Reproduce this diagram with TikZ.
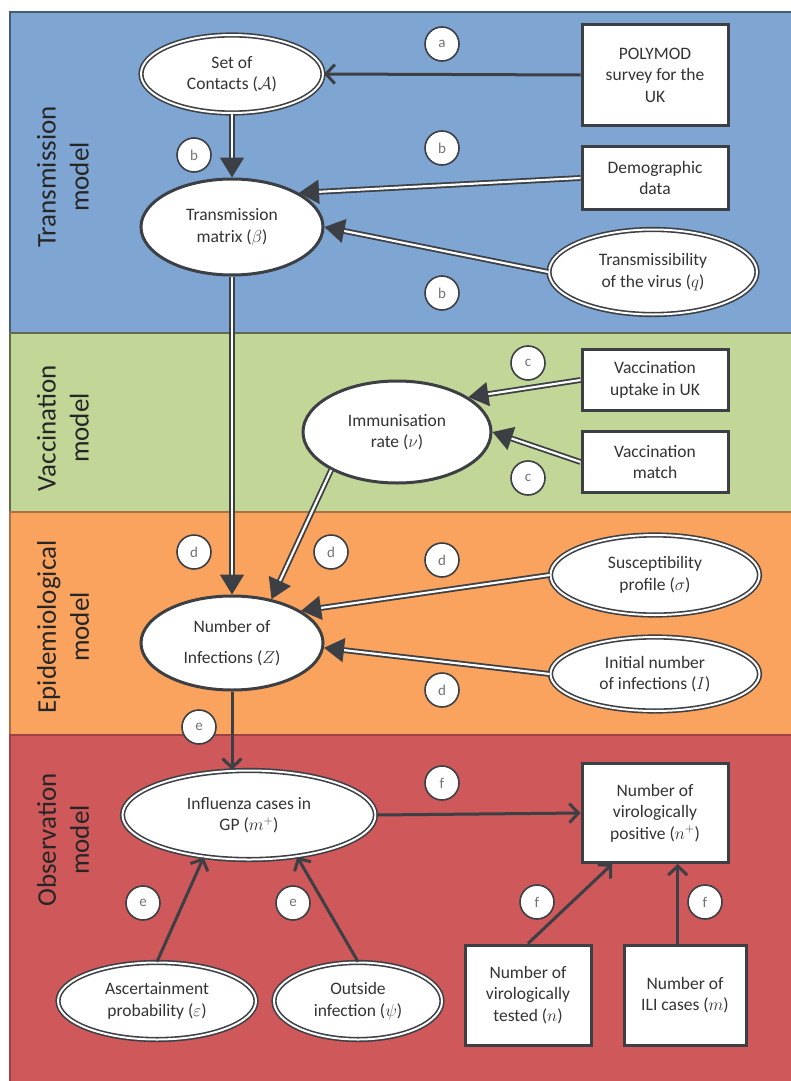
\documentclass[tikz,border=0pt]{standalone}
\usepackage{fontspec}
\setmainfont{Carlito}
\usetikzlibrary{shapes,arrows.meta,positioning}

\definecolor{bandblue}{RGB}{127,166,211}
\definecolor{bandgreen}{RGB}{194,214,152}
\definecolor{bandorange}{RGB}{249,163,94}
\definecolor{bandred}{RGB}{206,88,90}
\definecolor{linegray}{RGB}{60,63,68}

\begin{document}
\begin{tikzpicture}[
    x=1pt, y=-1pt,
    band/.style={line width=1.5pt},
    bandtitle/.style={rotate=90, align=center, text=black!85, font=\fontsize{27}{33}\selectfont},
    datum/.style={rectangle, draw=linegray, line width=3pt, fill=white, align=center, inner sep=2pt, text=black!80, font=\fontsize{17.5}{21.5}\selectfont},
    prior/.style={ellipse, draw=linegray, line width=1.6pt, double=white, double distance=2pt, fill=white, align=center, inner sep=0pt, text=black!80, font=\fontsize{17.5}{21.5}\selectfont},
    derived/.style={ellipse, draw=linegray, line width=3pt, fill=white, align=center, inner sep=0pt, text=black!80, font=\fontsize{17.5}{21.5}\selectfont},
    letter/.style={circle, draw=linegray, line width=1.6pt, fill=white, minimum size=34pt, inner sep=0pt, text=black!55, font=\fontsize{15}{15}\selectfont},
    infer/.style={draw=linegray, line width=1.8pt, double=white, double distance=2.2pt, -{Triangle[length=20pt,width=24pt]}},
    obs/.style={draw=linegray, line width=3pt, -{Straight Barb[length=9pt,width=19pt]}}
]
\useasboundingbox (0,0) rectangle (790,1081);

% Model bands, top to bottom
\filldraw[band, fill=bandblue, draw=bandblue!55!black] (10,12) rectangle (793,333);
\filldraw[band, fill=bandgreen, draw=bandgreen!50!black] (10,333) rectangle (793,512);
\filldraw[band, fill=bandorange, draw=bandorange!70!black] (10,512) rectangle (793,735);
\filldraw[band, fill=bandred, draw=bandred!75!black] (10,735) rectangle (793,1084);

% Band titles
\node[bandtitle] (ttrans) at (63,177) {Transmission\\model};
\node[bandtitle] (tvacc) at (63,428) {Vaccination\\model};
\node[bandtitle] (tepi) at (63,627) {Epidemiological\\model};
\node[bandtitle] (tobs) at (63,840) {Observation\\model};

% Transmission model
\node[prior, minimum width=182pt, minimum height=78pt] (contacts) at (232,74) {Set of\\Contacts ($\mathcal{A}$)};
\node[derived, minimum width=182pt, minimum height=96pt] (trans) at (232,227) {Transmission\\matrix ($\beta$)};
\node[datum, minimum width=146pt, minimum height=100pt] (polymod) at (655,75) {POLYMOD\\survey for the\\UK};
\node[datum, minimum width=146pt, minimum height=63pt] (demog) at (655,178) {Demographic\\data};
\node[prior, minimum width=208pt, minimum height=85pt] (transm) at (653,272) {Transmissibility\\of the virus ($q$)};

% Vaccination model
\node[derived, minimum width=188pt, minimum height=102pt] (immun) at (397,432) {Immunisation\\rate ($\nu$)};
\node[datum, minimum width=146pt, minimum height=61pt] (uptake) at (655,380) {Vaccination\\uptake in UK};
\node[datum, minimum width=146pt, minimum height=61pt] (match) at (655,462) {Vaccination\\match};

% Epidemiological model
\node[derived, minimum width=182pt, minimum height=94pt] (infect) at (232,643) {Number of\\[9pt]Infections ($Z$)};
\node[prior, minimum width=209pt, minimum height=80pt] (suscept) at (655,575) {Susceptibility\\profile ($\sigma$)};
\node[prior, minimum width=209pt, minimum height=74pt] (initial) at (655,674) {Initial number\\of infections ($I$)};

% Observation model
\node[prior, minimum width=253pt, minimum height=89pt] (influ) at (249,815) {Influenza cases in\\GP ($m^{+}$)};
\node[datum, minimum width=146pt, minimum height=99pt] (positive) at (655,813) {Number of\\virologically\\positive ($n^{+}$)};
\node[prior, minimum width=198pt, minimum height=77pt] (ascert) at (157,1001) {Ascertainment\\probability ($\varepsilon$)};
\node[prior, minimum width=168pt, minimum height=77pt] (outside) at (358,1001) {Outside\\infection ($\psi$)};
\node[datum, minimum width=126pt, minimum height=100pt] (tested) at (528,995) {Number of\\virologically\\tested ($n$)};
\node[datum, minimum width=122pt, minimum height=100pt] (ili) at (685,995) {Number of\\ILI cases ($m$)};

% Connectors
\draw[obs] (polymod.west) -- (contacts.east);
\draw[infer] (contacts.south) -- (trans.north);
\draw[infer] (demog.west) -- (trans.27);
\draw[infer] (transm.west) -- (trans.east);
\draw[infer] (trans.south) -- (infect.north);
\draw[infer] (uptake.west) -- (immun.26);
\draw[infer] (match.west) -- (immun.east);
\draw[infer] (immun.210) -- (infect.48);
\draw[infer] (suscept.west) -- (infect.25);
\draw[infer] (initial.west) -- (infect.-3);
\draw[obs] (infect.south) -- (infect.south |- influ.north);
\draw[obs] (influ.east) -- (positive.west);
\draw[obs] (ascert.north) -- (influ.223);
\draw[obs] (outside.north) -- (influ.-41);
\draw[obs] (tested.north) -- (positive.230);
\draw[obs] (ili.north -| positive.-66) -- (positive.-66);

% Step letters
\node[letter] (la) at (442,44) {a};
\node[letter] (lb1) at (194,155) {b};
\node[letter] (lb2) at (442,148) {b};
\node[letter] (lb3) at (442,293) {b};
\node[letter] (lc1) at (528,363) {c};
\node[letter] (lc2) at (528,478) {c};
\node[letter] (ld1) at (194,552) {d};
\node[letter] (ld2) at (331,552) {d};
\node[letter] (ld3) at (442,560) {d};
\node[letter] (ld4) at (442,690) {d};
\node[letter] (le1) at (199,727) {e};
\node[letter] (le2) at (143,903) {e};
\node[letter] (le3) at (293,903) {e};
\node[letter] (lf1) at (442,783) {f};
\node[letter] (lf2) at (537,902) {f};
\node[letter] (lf3) at (705,902) {f};

\end{tikzpicture}
\end{document}
